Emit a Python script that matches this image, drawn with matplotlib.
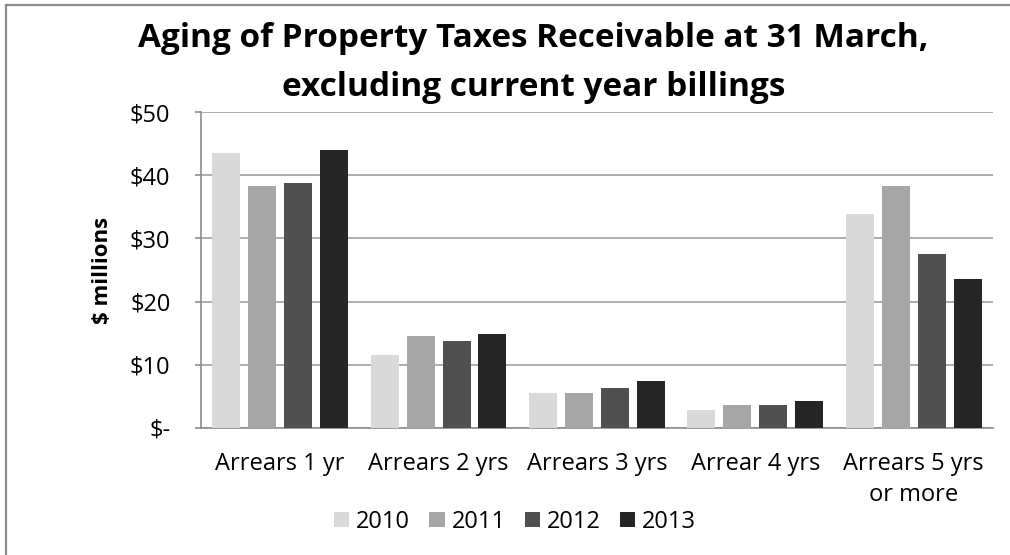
import matplotlib as mpl

mpl.use("Agg")
import matplotlib.pyplot as plt
import numpy as np
from matplotlib.lines import Line2D
from matplotlib.patches import Patch

categories = ["Arrears 1 yr", "Arrears 2 yrs", "Arrears 3 yrs", "Arrear 4 yrs", "Arrears 5 yrs\nor more"]
years = ["2010", "2011", "2012", "2013"]
values_2010 = [43.6, 11.6, 5.5, 2.9, 33.9]
values_2011 = [38.3, 14.6, 5.5, 3.6, 38.3]
values_2012 = [38.7, 13.8, 6.3, 3.6, 27.5]
values_2013 = [44.0, 14.8, 7.5, 4.3, 23.5]
y_ticks = [0, 10, 20, 30, 40, 50]
y_tick_labels = ["$-", "$10", "$20", "$30", "$40", "$50"]

series = [values_2010, values_2011, values_2012, values_2013]
colors = ["#d9d9d9", "#a6a6a6", "#505050", "#262626"]

plt.rcParams["font.family"] = ["Open Sans", "DejaVu Sans"]
label_size = 17

fig = plt.figure(figsize=(10.1, 5.55), dpi=100)
fig.patch.set_facecolor("white")
ax = fig.add_axes([0.199, 0.229, 0.784, 0.569])

x = np.arange(len(categories))
bar_w = 0.177
step = 0.227
for i, (vals, col, yr) in enumerate(zip(series, colors, years)):
    ax.bar(x + (i - 1.5) * step, vals, width=bar_w, color=col, label=yr, zorder=3)

ax.set_xlim(-0.5, len(categories) - 0.5)
ax.set_ylim(0, 50)
ax.set_yticks(y_ticks)
ax.set_yticklabels(y_tick_labels, fontsize=label_size)
ax.set_xticks(x)
ax.set_xticklabels(categories, fontsize=label_size, linespacing=1.4, va="top")

ax.tick_params(axis="y", length=4, width=1.2, color="#8c8c8c", pad=18)
ax.tick_params(axis="x", length=0, pad=17)

ax.grid(True, axis="y", color="#a0a0a0", linewidth=1.2, zorder=0)
ax.set_axisbelow(True)
for side in ("top", "right"):
    ax.spines[side].set_visible(False)
for side in ("left", "bottom"):
    ax.spines[side].set_color("#8c8c8c")
    ax.spines[side].set_linewidth(1.2)

ax.set_ylabel("$ millions", fontsize=16, fontweight="bold")
ax.yaxis.set_label_coords(-0.111, 0.5)

fig.text(0.528, 0.93, "Aging of Property Taxes Receivable at 31 March,",
         ha="center", va="center", fontsize=24, fontweight="bold")
fig.text(0.528, 0.842, "excluding current year billings",
         ha="center", va="center", fontsize=24, fontweight="bold")

handles = [Patch(facecolor=c, edgecolor="none") for c in colors]
fig.legend(handles, years, loc="center", bbox_to_anchor=(0.51, 0.06), ncol=4,
           frameon=False, fontsize=label_size, handlelength=0.65, handleheight=0.65,
           handletextpad=0.3, columnspacing=0.8)

# outer chart frame
fig.add_artist(Line2D([6 / 1010, 6 / 1010], [0, 1 - 5 / 555], transform=fig.transFigure,
                      color="#8c8c8c", linewidth=1.6))
fig.add_artist(Line2D([6 / 1010, 1], [1 - 5 / 555, 1 - 5 / 555], transform=fig.transFigure,
                      color="#8c8c8c", linewidth=1.6))

fig.savefig("out.png", dpi=100, facecolor="white")
plt.close(fig)
